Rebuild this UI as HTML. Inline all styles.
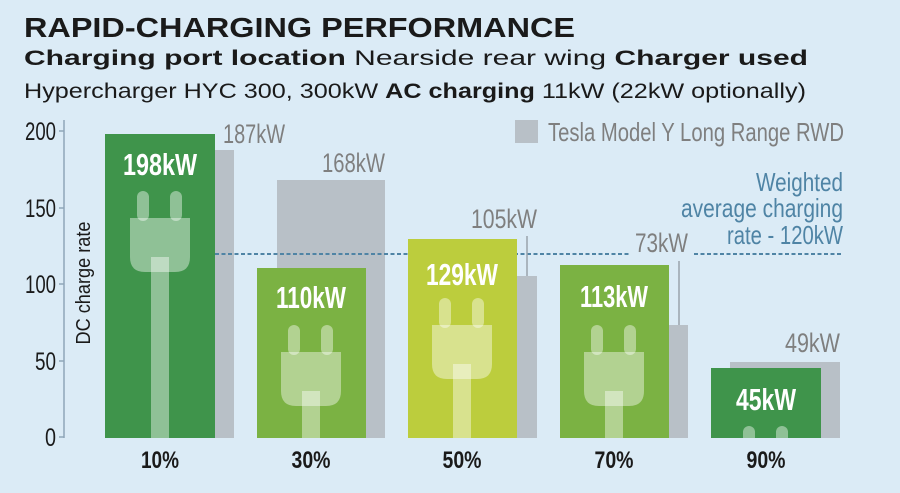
<!DOCTYPE html>
<html><head><meta charset="utf-8"><style>
html,body{margin:0;padding:0;background:#dbebf6;width:900px;height:493px;overflow:hidden;}
svg{display:block;}
.c{font-family:"Liberation Sans",sans-serif;}
</style></head><body>
<svg width="900" height="493" viewBox="0 0 900 493" xmlns="http://www.w3.org/2000/svg">
<rect width="900" height="493" fill="#dbebf6"/>
<g font-family="Liberation Sans, sans-serif" fill="#1a1a1a">
<text x="24" y="37" font-size="28" font-weight="bold" textLength="551" lengthAdjust="spacingAndGlyphs">RAPID-CHARGING PERFORMANCE</text>
<text x="24" y="65" font-size="21" textLength="784" lengthAdjust="spacingAndGlyphs"><tspan font-weight="bold">Charging port location</tspan> Nearside rear wing <tspan font-weight="bold">Charger used</tspan></text>
<text x="24" y="98" font-size="21" textLength="782" lengthAdjust="spacingAndGlyphs">Hypercharger HYC 300, 300kW <tspan font-weight="bold">AC charging</tspan> 11kW (22kW optionally)</text>
</g>
<line x1="64" y1="120" x2="64" y2="438" stroke="#8fa6b8" stroke-width="1.5"/>
<g stroke="#8fa6b8" stroke-width="1.5">
<line x1="59" y1="131" x2="64" y2="131"/><line x1="59" y1="208" x2="64" y2="208"/><line x1="59" y1="284" x2="64" y2="284"/><line x1="59" y1="361" x2="64" y2="361"/><line x1="59" y1="437" x2="64" y2="437"/>
</g>
<g class="c" font-size="25" fill="#1a1a1a" text-anchor="end" lengthAdjust="spacingAndGlyphs">
<text x="56" y="140" textLength="31" lengthAdjust="spacingAndGlyphs">200</text><text x="56" y="217" textLength="31" lengthAdjust="spacingAndGlyphs">150</text><text x="56" y="293" textLength="31" lengthAdjust="spacingAndGlyphs">100</text><text x="56" y="370" textLength="21" lengthAdjust="spacingAndGlyphs">50</text><text x="56" y="446" textLength="11" lengthAdjust="spacingAndGlyphs">0</text>
</g>
<text class="c" font-size="20" fill="#1a1a1a" text-anchor="middle" transform="translate(90,283) rotate(-90)" textLength="123" lengthAdjust="spacingAndGlyphs">DC charge rate</text>
<rect x="515" y="120" width="23" height="23" fill="#b8c0c7"/>
<text class="c" x="548" y="141" font-size="26" fill="#7f7f7f" textLength="296" lengthAdjust="spacingAndGlyphs">Tesla Model Y Long Range RWD</text>
<g fill="#b8c0c7">
<rect x="124" y="150" width="110" height="288"/>
<rect x="277" y="180" width="108" height="258"/>
<rect x="428" y="276" width="109" height="162"/>
<rect x="579" y="325" width="109" height="113"/>
<rect x="730" y="362" width="110" height="76"/>
</g>
<g stroke="#4f84a5" stroke-width="2" stroke-dasharray="4,2.5">
<line x1="215" y1="254" x2="629" y2="254"/><line x1="694" y1="254" x2="842" y2="254"/>
</g>
<line x1="527" y1="236" x2="527" y2="276" stroke="#9aa3ab" stroke-width="1.5"/>
<line x1="679" y1="261" x2="679" y2="325" stroke="#9aa3ab" stroke-width="1.5"/>
<rect x="105" y="134" width="110" height="304" fill="#3f944b"/>
<rect x="257" y="268" width="109" height="170" fill="#7bb243"/>
<rect x="408" y="239" width="109" height="199" fill="#bccd3d"/>
<rect x="560" y="265" width="109" height="173" fill="#7bb243"/>
<rect x="711" y="368" width="110" height="70" fill="#3f944b"/>
<defs><clipPath id="cl"><rect x="0" y="0" width="900" height="438"/></clipPath></defs>
<g fill="#ffffff" fill-opacity="0.42" clip-path="url(#cl)">
<g transform="translate(160,191)">
<rect x="-23" y="0" width="12" height="30" rx="6"/><rect x="10" y="0" width="12" height="30" rx="6"/>
<path d="M-30 27 H30 V66 Q30 81 15 81 H-15 Q-30 81 -30 66 Z"/>
<rect x="-9" y="66" width="18" height="200"/>
</g>
<g transform="translate(311,325)">
<rect x="-23" y="0" width="12" height="30" rx="6"/><rect x="10" y="0" width="12" height="30" rx="6"/>
<path d="M-30 27 H30 V66 Q30 81 15 81 H-15 Q-30 81 -30 66 Z"/>
<rect x="-9" y="66" width="18" height="200"/>
</g>
<g transform="translate(462,298)">
<rect x="-23" y="0" width="12" height="30" rx="6"/><rect x="10" y="0" width="12" height="30" rx="6"/>
<path d="M-30 27 H30 V66 Q30 81 15 81 H-15 Q-30 81 -30 66 Z"/>
<rect x="-9" y="66" width="18" height="200"/>
</g>
<g transform="translate(614,325)">
<rect x="-23" y="0" width="12" height="30" rx="6"/><rect x="10" y="0" width="12" height="30" rx="6"/>
<path d="M-30 27 H30 V66 Q30 81 15 81 H-15 Q-30 81 -30 66 Z"/>
<rect x="-9" y="66" width="18" height="200"/>
</g>
<g transform="translate(766,426)">
<rect x="-23" y="0" width="12" height="30" rx="6"/><rect x="10" y="0" width="12" height="30" rx="6"/>
</g>
</g>
<g class="c" font-size="31" font-weight="bold" fill="#ffffff" text-anchor="middle">
<text x="160" y="175" textLength="74" lengthAdjust="spacingAndGlyphs">198kW</text>
<text x="311" y="308" textLength="70" lengthAdjust="spacingAndGlyphs">110kW</text>
<text x="462" y="285" textLength="72" lengthAdjust="spacingAndGlyphs">129kW</text>
<text x="614" y="307" textLength="68" lengthAdjust="spacingAndGlyphs">113kW</text>
<text x="766" y="410" textLength="60" lengthAdjust="spacingAndGlyphs">45kW</text>
</g>
<g class="c" font-size="27" fill="#7f7f7f">
<text x="223" y="143" textLength="62" lengthAdjust="spacingAndGlyphs">187kW</text>
<text x="322" y="172" textLength="63" lengthAdjust="spacingAndGlyphs">168kW</text>
<text x="471" y="228" textLength="66" lengthAdjust="spacingAndGlyphs">105kW</text>
<text x="635" y="252" textLength="53" lengthAdjust="spacingAndGlyphs">73kW</text>
<text x="785" y="352" textLength="55" lengthAdjust="spacingAndGlyphs">49kW</text>
</g>
<g class="c" font-size="26" fill="#4f84a5">
<text x="756" y="191" textLength="87" lengthAdjust="spacingAndGlyphs">Weighted</text>
<text x="681" y="217" textLength="162" lengthAdjust="spacingAndGlyphs">average charging</text>
<text x="727" y="244" textLength="116" lengthAdjust="spacingAndGlyphs">rate - 120kW</text>
</g>
<g class="c" font-size="24" font-weight="bold" fill="#1a1a1a" text-anchor="middle">
<text x="160" y="468" textLength="38" lengthAdjust="spacingAndGlyphs">10%</text>
<text x="311" y="468" textLength="39" lengthAdjust="spacingAndGlyphs">30%</text>
<text x="462" y="468" textLength="39" lengthAdjust="spacingAndGlyphs">50%</text>
<text x="614" y="468" textLength="39" lengthAdjust="spacingAndGlyphs">70%</text>
<text x="766" y="468" textLength="39" lengthAdjust="spacingAndGlyphs">90%</text>
</g>
</svg>
</body></html>
